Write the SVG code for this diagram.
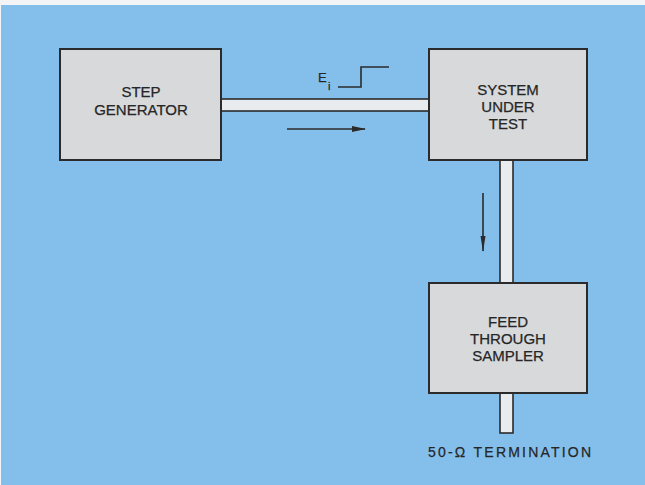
<svg xmlns="http://www.w3.org/2000/svg" width="645" height="485" viewBox="0 0 645 485">
<style>
.box{fill:#d8d9da;stroke:#2b2b2b;stroke-width:2}
.line{fill:#e8ecee;stroke:#2b2b2b;stroke-width:1.6}
.lbl{font-family:"Liberation Sans",Arial,sans-serif;font-size:15px;fill:#262626;text-anchor:middle;stroke:#262626;stroke-width:0.25}
.arr{stroke:#2b2b2b;stroke-width:1.6;fill:none}
.txt{font-family:"Liberation Sans",Arial,sans-serif;fill:#262626;stroke:#262626;stroke-width:0.25}
</style>
<defs>
<marker id="ah" markerWidth="14" markerHeight="7" refX="13" refY="3.5" orient="auto" markerUnits="userSpaceOnUse">
<path d="M0,0.5 L14,3.5 L0,6.5 Z" fill="#2b2b2b"/>
</marker>
<marker id="ahv" markerWidth="16" markerHeight="6" refX="15" refY="3" orient="auto" markerUnits="userSpaceOnUse">
<path d="M0,0.5 L16,3 L0,5.5 Z" fill="#2b2b2b"/>
</marker>
</defs>
<rect x="0" y="0" width="645" height="485" fill="#f3f4f5"/>
<rect x="1" y="5" width="644" height="480" fill="#84bfeb"/>
<g id="connectors">
<rect class="line" x="220" y="99" width="210" height="12"/>
<rect class="line" x="500" y="160" width="13" height="123"/>
<rect class="line" x="500" y="393" width="13" height="40"/>
<line class="arr" x1="287" y1="129" x2="365" y2="129" marker-end="url(#ah)"/>
<line class="arr" x1="483" y1="193" x2="483" y2="251" marker-end="url(#ahv)"/>
<path class="arr" d="M338,87 H361 V67 H389"/>
<text class="txt" x="318" y="82" font-size="13">E</text>
<text class="txt" x="328" y="90" font-size="11">i</text>
<text class="txt" x="428" y="457" font-size="14" letter-spacing="2.2">50-Ω TERMINATION</text>
</g>
<g id="step-generator">
<rect class="box" x="60" y="49" width="161" height="111"/>
<text class="lbl" x="141" y="97">STEP</text>
<text class="lbl" x="141" y="115">GENERATOR</text>
</g>
<g id="system-under-test">
<rect class="box" x="429" y="49" width="158" height="111"/>
<text class="lbl" x="508" y="95">SYSTEM</text>
<text class="lbl" x="508" y="112">UNDER</text>
<text class="lbl" x="508" y="129">TEST</text>
</g>
<g id="feed-through-sampler">
<rect class="box" x="429" y="283" width="158" height="110"/>
<text class="lbl" x="508" y="327">FEED</text>
<text class="lbl" x="508" y="344">THROUGH</text>
<text class="lbl" x="508" y="361">SAMPLER</text>
</g>
</svg>
